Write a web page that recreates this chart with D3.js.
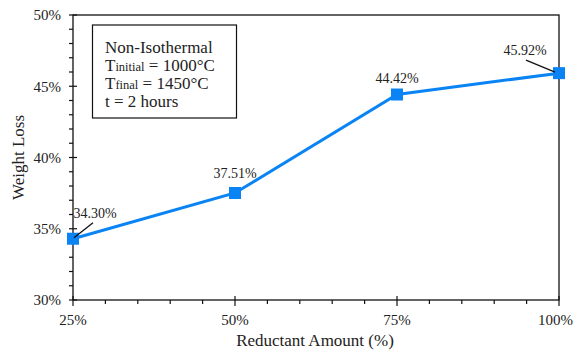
<!DOCTYPE html>
<html>
<head>
<meta charset="utf-8">
<script src="https://cdn.jsdelivr.net/npm/d3@7"></script>
<style>
  html, body { margin: 0; padding: 0; background: #fff; }
  svg { display: block; }
  text { font-family: "Liberation Serif", "Times New Roman", serif; fill: #222; }
</style>
</head>
<body>
<svg id="chart" width="574" height="353"></svg>
<script>
// Reductant amount (%) vs. weight loss (%)
const reductant = [25, 50, 75, 100];
const weightLoss = [34.30, 37.51, 44.42, 45.92];
const valueLabels = ["34.30%", "37.51%", "44.42%", "45.92%"];
const xTicks = [25, 50, 75, 100];
const yTicks = [30, 35, 40, 45, 50];
const conditions = ["Non-Isothermal", "Tinitial = 1000°C", "Tfinal = 1450°C", "t = 2 hours"];

const svg = d3.select("#chart");
const W = 574;
const L = 73, R = 559, T = 15, B = 300;

const x = d3.scaleLinear().domain([25, 100]).range([L, R]);
const y = d3.scaleLinear().domain([30, 50]).range([B, T]);

// plot frame
svg.append("rect").attr("x", L).attr("y", T).attr("width", R - L).attr("height", B - T)
  .attr("fill", "none").attr("stroke", "#111").attr("stroke-width", 1.3);

// minor ticks
const minorY = d3.range(30, 50.01, 1).filter(v => v % 5 !== 0);
svg.append("g").selectAll("line").data(minorY).join("line")
  .attr("x1", L - 4).attr("x2", L).attr("y1", d => y(d)).attr("y2", d => y(d))
  .attr("stroke", "#111").attr("stroke-width", 1.2);
const minorX = d3.range(25, 100.01, 5).filter(v => v % 25 !== 0);
svg.append("g").selectAll("line").data(minorX).join("line")
  .attr("x1", d => x(d)).attr("x2", d => x(d)).attr("y1", B).attr("y2", B + 4)
  .attr("stroke", "#111").attr("stroke-width", 1.2);

// major ticks crossing the axes
svg.append("g").selectAll("line").data(yTicks).join("line")
  .attr("x1", L - 4).attr("x2", L + 4).attr("y1", d => y(d)).attr("y2", d => y(d))
  .attr("stroke", "#111").attr("stroke-width", 1.2);
svg.append("g").selectAll("line").data(xTicks).join("line")
  .attr("x1", d => x(d)).attr("x2", d => x(d)).attr("y1", B - 4).attr("y2", B + 6)
  .attr("stroke", "#111").attr("stroke-width", 1.2);

// tick labels
svg.append("g").selectAll("text").data(yTicks).join("text")
  .attr("x", L - 12).attr("y", d => y(d)).attr("dy", "0.35em")
  .attr("text-anchor", "end").attr("font-size", 15)
  .text(d => d + "%");
svg.append("g").selectAll("text").data(xTicks).join("text")
  .attr("x", d => x(d)).attr("y", B + 25)
  .attr("text-anchor", "middle").attr("font-size", 15)
  .text(d => d + "%")
  .each(function () {
    // keep the last label inside the drawing
    const bb = this.getBBox();
    const over = bb.x + bb.width - (W - 1);
    if (over > 0) d3.select(this).attr("x", +d3.select(this).attr("x") - over);
  });

// axis titles
svg.append("text").attr("x", 315).attr("y", 346)
  .attr("text-anchor", "middle").attr("font-size", 17).text("Reductant Amount (%)");
svg.append("text").attr("transform", `translate(24,${(T + B) / 2}) rotate(-90)`)
  .attr("text-anchor", "middle").attr("font-size", 17).text("Weight Loss");

// conditions box
svg.append("rect").attr("x", 92.5).attr("y", 25).attr("width", 144).attr("height", 93)
  .attr("fill", "#fff").attr("stroke", "#111").attr("stroke-width", 1.2);
const box = svg.append("text").attr("font-size", 17);
conditions.forEach((line, i) => {
  const t = box.append("tspan").attr("x", 105).attr("y", 53 + i * 18);
  const m = line.match(/^T(initial|final)( = .*)$/);
  if (m) {
    t.text("T");
    box.append("tspan").attr("font-size", 12.5).text(m[1]);
    box.append("tspan").text(m[2]);
  } else {
    t.text(line);
  }
});

// series line and markers
const pts = reductant.map((r, i) => ({ r, v: weightLoss[i], label: valueLabels[i] }));
svg.append("path").datum(pts)
  .attr("d", d3.line().x(d => x(d.r)).y(d => y(d.v)))
  .attr("fill", "none").attr("stroke", "#0a84f5").attr("stroke-width", 3);
svg.append("g").selectAll("rect").data(pts).join("rect")
  .attr("x", d => x(d.r) - 6).attr("y", d => y(d.v) - 6)
  .attr("width", 12).attr("height", 12).attr("fill", "#0a84f5");

// value labels, with leader lines where the label is pulled away from its point
const labelPos = [
  { dx: 22, dy: -21, lead: [[20, -16], [1, -1]] },
  { dx: 0, dy: -15, lead: null },
  { dx: 0, dy: -12, lead: null },
  { dx: -34, dy: -18, lead: [[-33, -13], [-4, -1]] }
];
svg.append("g").selectAll("text").data(pts).join("text")
  .attr("x", (d, i) => x(d.r) + labelPos[i].dx)
  .attr("y", (d, i) => y(d.v) + labelPos[i].dy)
  .attr("text-anchor", "middle").attr("font-size", 14)
  .text(d => d.label);
pts.forEach((d, i) => {
  const ld = labelPos[i].lead;
  if (!ld) return;
  svg.append("line")
    .attr("x1", x(d.r) + ld[0][0]).attr("y1", y(d.v) + ld[0][1])
    .attr("x2", x(d.r) + ld[1][0]).attr("y2", y(d.v) + ld[1][1])
    .attr("stroke", "#111").attr("stroke-width", 1.3);
});
</script>
</body>
</html>
